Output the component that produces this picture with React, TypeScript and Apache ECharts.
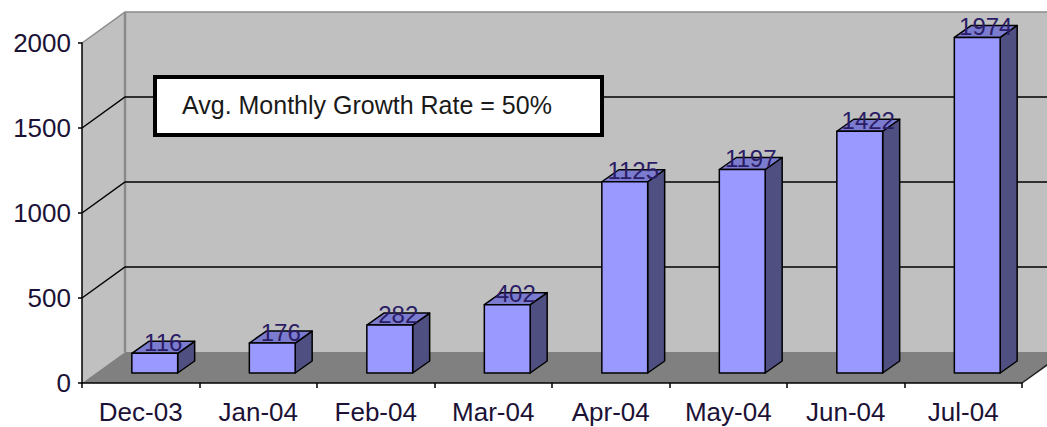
import React, { useEffect, useRef } from "react";
import * as echarts from "echarts";

const categories = ["Dec-03", "Jan-04", "Feb-04", "Mar-04", "Apr-04", "May-04", "Jun-04", "Jul-04"];
const values = [116, 176, 282, 402, 1125, 1197, 1422, 1974];
const yTicks = [0, 500, 1000, 1500, 2000];
const noteText = "Avg. Monthly Growth Rate = 50%";

const FONT = "'Liberation Sans', Arial, sans-serif";
// depth of the 3D box and bar placement within it
const DX = 43;
const DY = -31;
const BF_X = 14; // bar front face offset
const BF_Y = -10;
const BD_X = 17; // bar depth
const BD_Y = -12;

export default function App() {
  const ref = useRef<HTMLDivElement>(null);

  useEffect(() => {
    if (!ref.current) return;
    const chart = echarts.init(ref.current, undefined, { renderer: "svg" });
    const yMax = yTicks[yTicks.length - 1];

    const option: any = {
      animation: false,
      backgroundColor: "#ffffff",
      grid: { left: 82, right: 25, top: 43, bottom: 44 },
      xAxis: {
        type: "category",
        data: categories,
        boundaryGap: true,
        z: 5,
        axisLine: { show: true, lineStyle: { color: "#000", width: 1.5 } },
        axisTick: { show: true, length: 5, lineStyle: { color: "#000", width: 1.5 } },
        axisLabel: { fontSize: 26, fontFamily: FONT, color: "#1c1236", margin: 16 },
        splitLine: { show: false },
      },
      yAxis: {
        type: "value",
        min: 0,
        max: yMax,
        interval: 500,
        z: 5,
        axisLine: { show: true, lineStyle: { color: "#000", width: 1.5 } },
        axisTick: { show: true, length: 4, lineStyle: { color: "#000", width: 1.5 } },
        axisLabel: {
          fontSize: 26,
          fontFamily: FONT,
          color: "#1c1236",
          margin: 11,
          formatter: (v: number) => String(v),
        },
        splitLine: { show: false },
      },
      series: [
        {
          type: "custom",
          name: "walls",
          z: 1,
          silent: true,
          data: [[0, 0]],
          renderItem: (params: any, api: any) => {
            const cs = params.coordSys;
            const x0 = cs.x;
            const x1 = cs.x + cs.width;
            const yT = api.coord([0, yMax])[1];
            const yB = api.coord([0, 0])[1];
            return {
              type: "group",
              children: [
                {
                  type: "polygon",
                  shape: { points: [[x0, yT], [x0 + DX, yT + DY], [x0 + DX, yB + DY], [x0, yB]] },
                  style: { fill: "#c0c0c0" },
                },
                {
                  type: "rect",
                  shape: { x: x0 + DX, y: yT + DY, width: x1 - x0, height: yB - yT },
                  style: { fill: "#c0c0c0" },
                },
                {
                  type: "polygon",
                  shape: { points: [[x0, yB], [x0 + DX, yB + DY], [x1 + DX, yB + DY], [x1, yB]] },
                  style: { fill: "#808080" },
                },
                {
                  type: "polyline",
                  shape: { points: [[x0, yT], [x0 + DX, yT + DY], [x1 + DX, yT + DY]] },
                  style: { fill: "none", stroke: "#8a8a8a", lineWidth: 1.5 },
                },
                {
                  type: "line",
                  shape: { x1: x0 + DX, y1: yT + DY, x2: x0 + DX, y2: yB + DY },
                  style: { stroke: "#8a8a8a", lineWidth: 2.5 },
                },
                {
                  type: "line",
                  shape: { x1: x1, y1: yB, x2: x1 + DX, y2: yB + DY },
                  style: { stroke: "#222", lineWidth: 1.5 },
                },
              ],
            };
          },
        },
        {
          type: "custom",
          name: "gridlines",
          z: 1,
          silent: true,
          data: yTicks.slice(1, -1).map((v) => [0, v]),
          renderItem: (params: any, api: any) => {
            const cs = params.coordSys;
            const x0 = cs.x;
            const x1 = cs.x + cs.width;
            const y = api.coord([0, api.value(1)])[1];
            return {
              type: "polyline",
              shape: { points: [[x0, y], [x0 + DX, y + DY], [x1 + DX, y + DY]] },
              style: { fill: "none", stroke: "#000", lineWidth: 1.5 },
            };
          },
        },
        {
          type: "custom",
          name: "Members",
          z: 3,
          data: values.map((v, i) => [i, v]),
          renderItem: (params: any, api: any) => {
            const idx = api.value(0);
            const v = api.value(1);
            const top = api.coord([idx, v]);
            const base = api.coord([idx, 0]);
            const w = api.size([1, 0])[0] * 0.39;
            const cx = top[0] + BF_X;
            const xl = cx - w / 2;
            const xr = cx + w / 2;
            const yt = top[1] + BF_Y;
            const yb = base[1] + BF_Y;
            const edge = { stroke: "#000", lineWidth: 1.5, lineJoin: "round" };
            return {
              type: "group",
              children: [
                {
                  type: "polygon",
                  shape: { points: [[xr, yt], [xr + BD_X, yt + BD_Y], [xr + BD_X, yb + BD_Y], [xr, yb]] },
                  style: { fill: "#4f4f82", ...edge },
                },
                {
                  type: "polygon",
                  shape: { points: [[xl, yt], [xl + BD_X, yt + BD_Y], [xr + BD_X, yt + BD_Y], [xr, yt]] },
                  style: { fill: "#7b7bcf", ...edge },
                },
                {
                  type: "rect",
                  shape: { x: xl, y: yt, width: w, height: yb - yt },
                  style: { fill: "#9999ff", ...edge },
                },
                {
                  type: "text",
                  style: {
                    text: String(v),
                    x: cx + BD_X / 2,
                    y: yt - 11,
                    align: "center",
                    verticalAlign: "middle",
                    fontSize: 24,
                    fontFamily: FONT,
                    fill: "#2a1d66",
                  },
                },
              ],
            };
          },
        },
      ],
      graphic: [
        {
          type: "rect",
          z: 100,
          shape: { x: 155, y: 77, width: 447, height: 58 },
          style: { fill: "#ffffff", stroke: "#000", lineWidth: 4 },
        },
        {
          type: "text",
          z: 101,
          style: {
            text: noteText,
            x: 182,
            y: 105,
            verticalAlign: "middle",
            fontSize: 25,
            fontFamily: FONT,
            fill: "#1a1a1a",
          },
        },
      ],
    };

    chart.setOption(option);
    return () => chart.dispose();
  }, []);

  return (
    <div
      ref={ref}
      style={{ position: "fixed", left: 0, top: 0, width: 1047, height: 427, background: "#fff" }}
    />
  );
}
